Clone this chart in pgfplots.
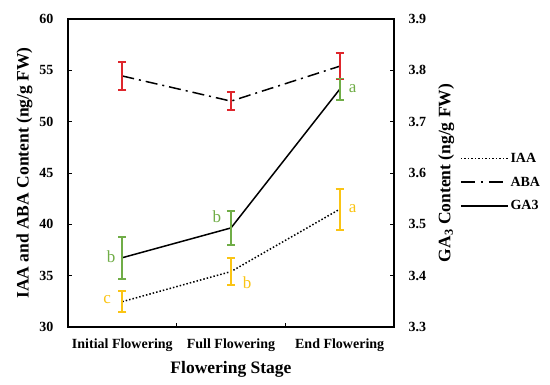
\documentclass[border=0pt]{standalone}
\usepackage{fontspec}
\setmainfont{Liberation Serif}
\usepackage{pgfplots}
\usepackage{pgfplotstable}
\pgfplotsset{compat=1.18}
\definecolor{cred}{RGB}{222,38,44}
\definecolor{cgreen}{RGB}{112,173,71}
\definecolor{cyel}{RGB}{250,196,20}
\pgfplotstableread{
x y e
0 32.47 1.0
1 35.40 1.3
2 41.47 2.0
}\iaa
\pgfplotstableread{
x y e
0 54.45 1.4
1 52.00 0.9
2 55.40 1.25
}\aba
\pgfplotstableread{
x y e
0 3.435 0.041
1 3.493 0.033
2 3.763 0.021
}\gaa
\newcommand{\tickfont}{\bfseries\fontsize{14}{16}\selectfont}
\newcommand{\labfont}{\bfseries\fontsize{17.5}{20}\selectfont}
\newcommand{\letfont}{\fontsize{17}{20}\selectfont}
\begin{document}
\begin{tikzpicture}
\useasboundingbox (-68pt,-57pt) rectangle (482pt,327pt);
\begin{axis}[
  at={(0,0)}, anchor=south west,
  scale only axis, width=326pt, height=308pt,
  xmin=-0.5, xmax=2.5, ymin=30, ymax=60,
  ytick={30,35,...,60}, ytick pos=left,
  xtick={0.5,1.5}, xticklabels={}, xtick pos=bottom,
  extra x ticks={0,1,2},
  extra x tick labels={Initial Flowering,Full Flowering,End Flowering},
  extra x tick style={major tick length=0pt},
  tick align=inside, major tick length=4pt,
  tick style={black, line width=0.8pt},
  axis line style={line width=1.5pt},
  /pgf/number format/assume math mode=true,
  tick label style={font=\tickfont},
  yticklabel style={xshift=-11pt},
  xticklabel style={yshift=-8pt},
  xlabel={Flowering Stage}, ylabel={IAA and ABA Content (ng/g FW)},
  label style={font=\labfont},
  ylabel style={at={(axis description cs:-0.1334,0.5)}, anchor=center},
  xlabel style={at={(axis description cs:0.5,-0.137)}, anchor=center},
  clip=false,
]
\addplot[black, line width=1.5pt, dash pattern=on 1.5pt off 2pt,
  error bars/.cd, y dir=both, y explicit,
  error bar style={solid, color=cyel, line width=1.8pt},
  error mark options={solid, rotate=90, mark size=4pt, color=cyel, line width=1.8pt}]
  table[x=x, y=y, y error=e] {\iaa};
\addplot[black, line width=1.5pt, dash pattern=on 12pt off 5pt on 2pt off 5pt,
  error bars/.cd, y dir=both, y explicit,
  error bar style={solid, color=cred, line width=1.8pt},
  error mark options={solid, rotate=90, mark size=4pt, color=cred, line width=1.8pt}]
  table[x=x, y=y, y error=e] {\aba};
\node[text=cyel, font=\letfont] at (axis cs:-0.139,32.64) {c};
\node[text=cyel, font=\letfont] at (axis cs:1.148,34.29) {b};
\node[text=cyel, font=\letfont] at (axis cs:2.12,41.5) {a};
\node[text=cgreen, font=\letfont] at (axis cs:-0.102,36.83) {b};
\node[text=cgreen, font=\letfont] at (axis cs:0.87,40.72) {b};
\node[text=cgreen, font=\letfont] at (axis cs:2.12,53.18) {a};
\end{axis}
\begin{axis}[
  at={(0,0)}, anchor=south west,
  scale only axis, width=326pt, height=308pt,
  xmin=-0.5, xmax=2.5, ymin=3.3, ymax=3.9,
  axis x line=none, axis y line*=right,
  ytick={3.3,3.4,...,3.9},
  yticklabel style={/pgf/number format/.cd, fixed, fixed zerofill, precision=1},
  tick align=inside, major tick length=4pt,
  tick style={black, line width=0.8pt},
  axis line style={line width=1.5pt},
  /pgf/number format/assume math mode=true,
  tick label style={font=\tickfont, xshift=11pt},
  ylabel={GA\textsubscript{3} Content (ng/g FW)},
  label style={font=\labfont},
  ylabel style={at={(axis description cs:1.16,0.5)}, anchor=center},
  clip=false,
  legend style={draw=none, fill=none, at={(axis description cs:1.202,0.47)}, anchor=west,
    font=\bfseries\fontsize{14}{16}\selectfont, row sep=9pt, inner sep=0pt,
    nodes={inner sep=2pt}},
  legend cell align=left,
  legend image code/.code={\draw[#1] (0pt,0pt) -- (47pt,0pt);},
]
\addlegendimage{black, line width=1.5pt, dash pattern=on 1.5pt off 2pt}
\addlegendentry{IAA}
\addlegendimage{black, line width=1.5pt, dash pattern=on 14pt off 6pt on 2pt off 6pt}
\addlegendentry{ABA}
\addlegendimage{black, line width=1.5pt, solid}
\addlegendentry{GA3}
\addplot[black, line width=1.5pt, forget plot,
  error bars/.cd, y dir=both, y explicit,
  error bar style={solid, color=cgreen, line width=1.8pt},
  error mark options={solid, rotate=90, mark size=4pt, color=cgreen, line width=1.8pt}]
  table[x=x, y=y, y error=e] {\gaa};
\end{axis}
\end{tikzpicture}
\end{document}
